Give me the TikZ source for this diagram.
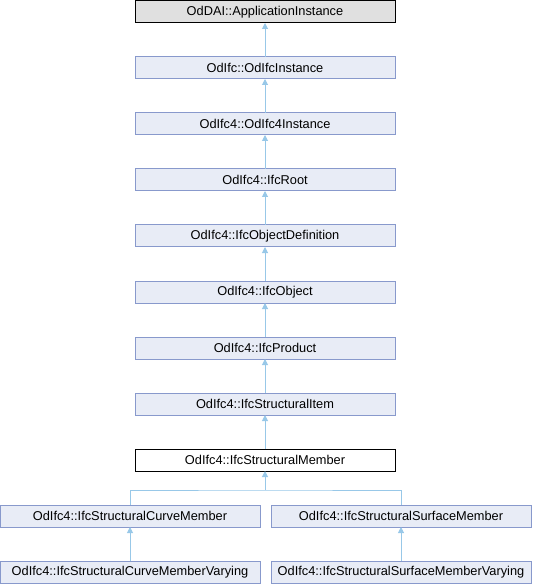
\documentclass[tikz,border=0pt]{standalone}
\usepackage{fontspec}
\setmainfont{Liberation Sans}
\usetikzlibrary{arrows.meta}

\definecolor{boxfill}{HTML}{E8ECF6}
\definecolor{boxline}{HTML}{8899CC}
\definecolor{edgeblue}{HTML}{98C8E8}
\definecolor{topfill}{HTML}{E0E0E0}

\tikzset{
    cls/.style={draw=boxline, fill=boxfill, line width=0.75pt, minimum width=195pt,
        minimum height=16.5pt, inner sep=0pt, outer sep=0pt, font=\fontsize{9.6}{11}\selectfont},
    clsroot/.style={cls, draw=black, fill=topfill},
    clsthis/.style={cls, draw=black, fill=white},
    inherit/.style={draw=edgeblue, line width=0.75pt, -{Triangle[length=4.5pt,width=4.5pt]}},
    branch/.style={draw=edgeblue, line width=0.75pt}
}

\begin{document}
\begin{tikzpicture}[x=0.75pt, y=-0.75pt]
        % frame
            \useasboundingbox (0,0) rectangle (532,584);
        % main column
            \node[clsroot] (appinst) at (265,12) {OdDAI::ApplicationInstance};
            \node[cls] (ifcinst) at (265,68) {OdIfc::OdIfcInstance};
            \node[cls] (ifc4inst) at (265,124) {OdIfc4::OdIfc4Instance};
            \node[cls] (root) at (265,180) {OdIfc4::IfcRoot};
            \node[cls] (objdef) at (265,236) {OdIfc4::IfcObjectDefinition};
            \node[cls] (object) at (265,292) {OdIfc4::IfcObject};
            \node[cls] (product) at (265,348) {OdIfc4::IfcProduct};
            \node[cls] (item) at (265,404) {OdIfc4::IfcStructuralItem};
            \node[clsthis] (member) at (265,460) {OdIfc4::IfcStructuralMember};
        % derived classes
            \node[cls] (curve) at (130,516) {OdIfc4::IfcStructuralCurveMember};
            \node[cls] (surface) at (401,516) {OdIfc4::IfcStructuralSurfaceMember};
            \node[cls] (curvevar) at (130,572) {OdIfc4::IfcStructuralCurveMemberVarying};
            \node[cls] (surfacevar) at (401,572) {OdIfc4::IfcStructuralSurfaceMemberVarying};
        % arrows
            \draw[inherit] (ifcinst) -- (appinst);
            \draw[inherit] (ifc4inst) -- (ifcinst);
            \draw[inherit] (root) -- (ifc4inst);
            \draw[inherit] (objdef) -- (root);
            \draw[inherit] (object) -- (objdef);
            \draw[inherit] (product) -- (object);
            \draw[inherit] (item) -- (product);
            \draw[inherit] (member) -- (item);
            \coordinate (split) at (265,490);
            \draw[inherit] (split) -- (member);
            \draw[branch] (curve.north) |- (split) -| (surface.north);
            \draw[inherit] (curvevar) -- (curve);
            \draw[inherit] (surfacevar) -- (surface);
    \end{tikzpicture}
\end{document}
